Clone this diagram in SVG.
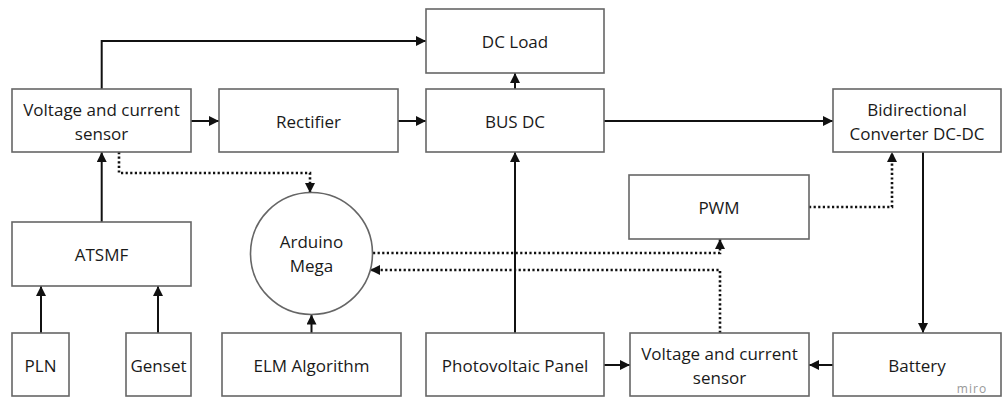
<svg xmlns="http://www.w3.org/2000/svg" width="1005" height="398" viewBox="0 0 1005 398">
<style>
.box{fill:#fff;stroke:#666;stroke-width:1.6}
.t{font-family:"Open Sans","Noto Sans",sans-serif;font-size:17px;fill:#1a1a1a;text-anchor:middle;dominant-baseline:central}
.c{fill:none;stroke:#111;stroke-width:2}
.d{fill:none;stroke:#111;stroke-width:2.6;stroke-dasharray:2.2 2.4}
</style>
<defs>
<marker id="a" viewBox="0 0 10 10" refX="10" refY="5" markerWidth="5" markerHeight="5" orient="auto" markerUnits="strokeWidth"><path d="M0,0 L10,5 L0,10 z" fill="#111"/></marker>
<marker id="b" viewBox="0 0 10 10" refX="10" refY="5" markerWidth="4" markerHeight="4" orient="auto" markerUnits="strokeWidth"><path d="M0,0 L10,5 L0,10 z" fill="#111"/></marker>
</defs>
<rect width="1005" height="398" fill="#fff"/>
<g id="connectors">
<path class="c" d="M101.7,89 V41 H426" marker-end="url(#a)"/>
<path class="c" d="M191,121 H219" marker-end="url(#a)"/>
<path class="c" d="M398,121 H426" marker-end="url(#a)"/>
<path class="c" d="M515,89 V73" marker-end="url(#a)"/>
<path class="c" d="M604,121 H833" marker-end="url(#a)"/>
<path class="c" d="M515,333 V152" marker-end="url(#a)"/>
<path class="c" d="M101.7,222 V152" marker-end="url(#a)"/>
<path class="c" d="M41,333 V286" marker-end="url(#a)"/>
<path class="c" d="M158,333 V286" marker-end="url(#a)"/>
<path class="c" d="M311.5,333 V314.5" marker-end="url(#a)"/>
<path class="c" d="M604,365 H630" marker-end="url(#a)"/>
<path class="c" d="M833,365 H809" marker-end="url(#a)"/>
<path class="c" d="M923,152 V333" marker-end="url(#a)"/>
<path class="d" d="M119,152 V173 H310 V193" marker-end="url(#b)"/>
<path class="d" d="M373,253 H720 V239" marker-end="url(#b)"/>
<path class="d" d="M720,333 V270 H370" marker-end="url(#b)"/>
<path class="d" d="M809,207 H892 V152" marker-end="url(#b)"/>
</g>
<g id="sensor1"><rect class="box" x="12" y="89" width="179" height="63"/><text class="t" x="101.5" y="109">Voltage and current</text><text class="t" x="101.5" y="133">sensor</text></g>
<g id="rectifier"><rect class="box" x="219" y="89" width="179" height="63"/><text class="t" x="308.5" y="121">Rectifier</text></g>
<g id="dcload"><rect class="box" x="426" y="9" width="178" height="64"/><text class="t" x="515" y="41">DC Load</text></g>
<g id="busdc"><rect class="box" x="426" y="89" width="178" height="63"/><text class="t" x="515" y="121">BUS DC</text></g>
<g id="bidir"><rect class="box" x="833" y="89" width="168" height="63"/><text class="t" x="917" y="109">Bidirectional</text><text class="t" x="917" y="133">Converter DC-DC</text></g>
<g id="atsmf"><rect class="box" x="12" y="222" width="179" height="64"/><text class="t" x="101.5" y="254">ATSMF</text></g>
<g id="arduino"><circle class="box" cx="311.5" cy="253.5" r="61" stroke-width="1.3"/><text class="t" x="311.5" y="241">Arduino</text><text class="t" x="311.5" y="265">Mega</text></g>
<g id="pwm"><rect class="box" x="629" y="175" width="180" height="64"/><text class="t" x="719" y="207">PWM</text></g>
<g id="pln"><rect class="box" x="12" y="333" width="57" height="63"/><text class="t" x="40.5" y="365">PLN</text></g>
<g id="genset"><rect class="box" x="126" y="333" width="65" height="63"/><text class="t" x="158.5" y="365">Genset</text></g>
<g id="elm"><rect class="box" x="222" y="333" width="179" height="63"/><text class="t" x="311.5" y="365">ELM Algorithm</text></g>
<g id="pv"><rect class="box" x="426" y="333" width="178" height="63"/><text class="t" x="515" y="365">Photovoltaic Panel</text></g>
<g id="sensor2"><rect class="box" x="630" y="333" width="179" height="63"/><text class="t" x="719.5" y="353">Voltage and current</text><text class="t" x="719.5" y="377">sensor</text></g>
<g id="battery"><rect class="box" x="833" y="333" width="168" height="63"/><text class="t" x="917" y="365">Battery</text></g>
<text x="972" y="388" font-family="'Open Sans','Noto Sans',sans-serif" font-size="12" fill="#999" text-anchor="middle" dominant-baseline="central" letter-spacing="1">miro</text>
</svg>
